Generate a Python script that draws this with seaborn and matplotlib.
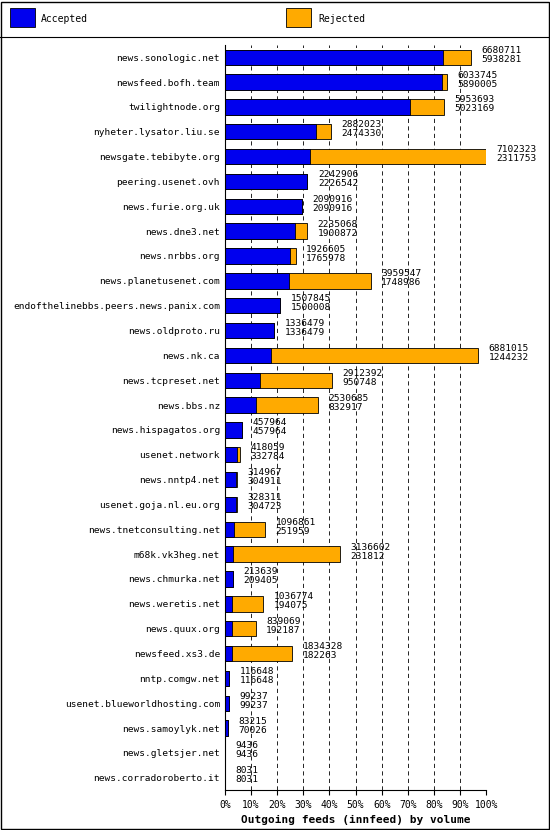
import matplotlib
matplotlib.use("Agg")
import matplotlib.pyplot as plt
import seaborn as sns
import pandas as pd
from matplotlib.patches import Rectangle

sites = ["news.sonologic.net", "newsfeed.bofh.team", "twilightnode.org", "nyheter.lysator.liu.se",
         "newsgate.tebibyte.org", "peering.usenet.ovh", "news.furie.org.uk", "news.dne3.net",
         "news.nrbbs.org", "news.planetusenet.com", "endofthelinebbs.peers.news.panix.com",
         "news.oldproto.ru", "news.nk.ca", "news.tcpreset.net", "news.bbs.nz", "news.hispagatos.org",
         "usenet.network", "news.nntp4.net", "usenet.goja.nl.eu.org", "news.tnetconsulting.net",
         "m68k.vk3heg.net", "news.chmurka.net", "news.weretis.net", "news.quux.org", "newsfeed.xs3.de",
         "nntp.comgw.net", "usenet.blueworldhosting.com", "news.samoylyk.net", "news.gletsjer.net",
         "news.corradoroberto.it"]
total = [6680711, 6033745, 5953693, 2882023, 7102323, 2242906, 2090916, 2235068, 1926605, 3959547,
         1507845, 1336479, 6881015, 2912392, 2530685, 457964, 418059, 314967, 328311, 1096861,
         3136602, 213639, 1036774, 839069, 1834328, 116648, 99237, 83215, 9436, 8031]
accepted = [5938281, 5890005, 5023169, 2474330, 2311753, 2226542, 2090916, 1900872, 1765978, 1748986,
            1500008, 1336479, 1244232, 950748, 832917, 457964, 332784, 304911, 304723, 251959,
            231812, 209405, 194075, 192187, 182263, 116648, 99237, 70026, 9436, 8031]

mx = max(total)
df = pd.DataFrame({"site": sites,
                   "tot": [t / mx * 100 for t in total],
                   "acc": [a / mx * 100 for a in accepted]})

plt.rcParams["font.family"] = ["DejaVu Sans Mono"]
fig = plt.figure(figsize=(5.5, 8.3), dpi=100)
fig.patch.set_facecolor("white")
ax = fig.add_axes([0.409, 0.048, 0.475, 0.898])

sns.barplot(data=df, y="site", x="tot", orient="h", color="#ffaa00", edgecolor="black",
            linewidth=0.6, width=0.62, saturation=1, ax=ax)
sns.barplot(data=df, y="site", x="acc", orient="h", color="#0000ee", edgecolor="black",
            linewidth=0.6, width=0.62, saturation=1, ax=ax)

ax.set_xlim(0, 100)
ax.set_ylim(len(sites) - 0.5, -0.5)
ax.set_xticks(range(0, 101, 10))
ax.set_xticklabels([f"{v}%" for v in range(0, 101, 10)], fontsize=7)
ax.tick_params(axis="y", labelsize=6.8, length=0)
ax.set_ylabel("")
ax.set_xlabel("Outgoing feeds (innfeed) by volume", fontsize=8, fontweight="bold")
for v in range(10, 101, 10):
    ax.axvline(v, color="black", linestyle=(0, (5, 4)), linewidth=0.6, zorder=0)
for s in ["top", "right"]:
    ax.spines[s].set_visible(False)

for i in range(len(sites)):
    x = df["tot"][i] + 4
    ax.text(x, i - 0.1, str(total[i]), fontsize=6.8, va="bottom", ha="left")
    ax.text(x, i - 0.1, str(accepted[i]), fontsize=6.8, va="top", ha="left")

# legend header
fig.add_artist(Rectangle((0.018, 0.968), 0.045, 0.022, transform=fig.transFigure,
                         facecolor="#0000ee", edgecolor="black", linewidth=0.6))
fig.text(0.075, 0.977, "Accepted", fontsize=7, va="center")
fig.add_artist(Rectangle((0.52, 0.968), 0.045, 0.022, transform=fig.transFigure,
                         facecolor="#ffaa00", edgecolor="black", linewidth=0.6))
fig.text(0.578, 0.977, "Rejected", fontsize=7, va="center")
fig.add_artist(plt.Line2D([0, 1], [0.956, 0.956], transform=fig.transFigure, color="black", linewidth=0.8))
fig.add_artist(Rectangle((0.001, 0.001), 0.997, 0.997, transform=fig.transFigure,
                         fill=False, edgecolor="black", linewidth=1))

fig.savefig("out.png", dpi=100, facecolor="white")
